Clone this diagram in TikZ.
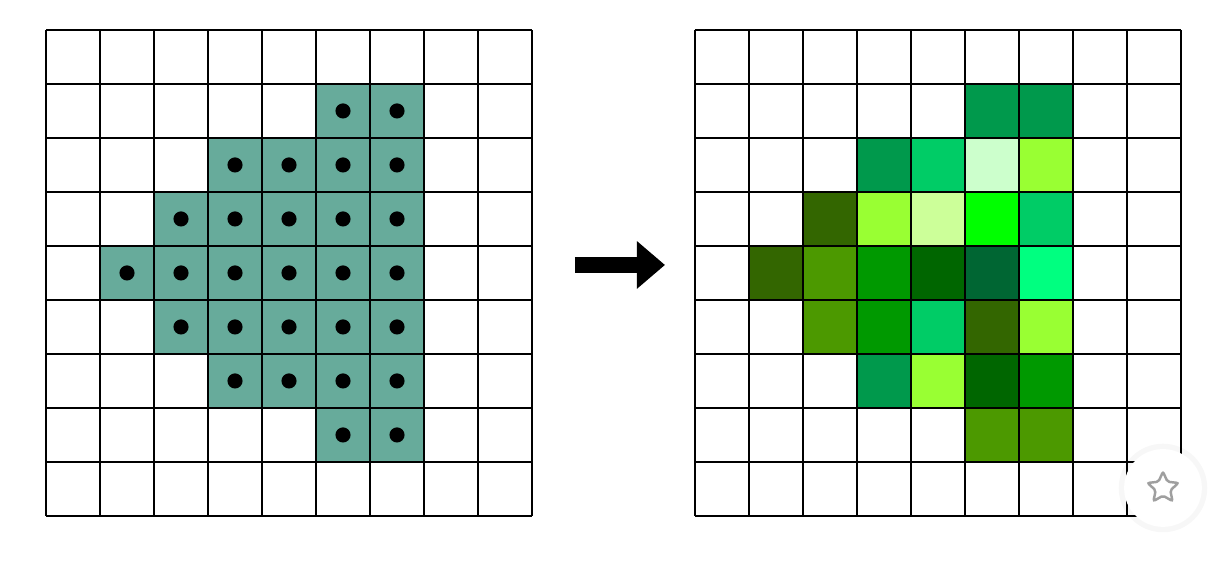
\documentclass[tikz,border=0pt]{standalone}
\usepackage{tikz}
\usetikzlibrary{arrows.meta,shapes.geometric}
\definecolor{cellteal}{RGB}{103,171,155}
\definecolor{gA}{HTML}{00994C}
\definecolor{gB}{HTML}{00CC66}
\definecolor{gC}{HTML}{CCFFCC}
\definecolor{gD}{HTML}{99FF33}
\definecolor{gE}{HTML}{336600}
\definecolor{gF}{HTML}{CCFF99}
\definecolor{gG}{HTML}{00FF00}
\definecolor{gH}{HTML}{4C9900}
\definecolor{gI}{HTML}{009900}
\definecolor{gJ}{HTML}{006600}
\definecolor{gK}{HTML}{006633}
\definecolor{gL}{HTML}{00FF80}

\begin{document}
\begin{tikzpicture}[gridline/.style={line width=0.8pt}]
    \useasboundingbox (0,0) rectangle (22.556,10.611);
    % left grid
    \begin{scope}[shift={(0.852,1.056)}]
        \foreach \c/\r in {5/1,6/1,3/2,4/2,5/2,6/2,2/3,3/3,4/3,5/3,6/3,1/4,2/4,3/4,4/4,5/4,6/4,2/5,3/5,4/5,5/5,6/5,3/6,4/6,5/6,6/6,5/7,6/7}
            \fill[cellteal] (\c,8-\r) rectangle +(1,1);
        \draw[gridline] (0,0) grid (9,9);
        \foreach \c/\r in {5/1,6/1,3/2,4/2,5/2,6/2,2/3,3/3,4/3,5/3,6/3,1/4,2/4,3/4,4/4,5/4,6/4,2/5,3/5,4/5,5/5,6/5,3/6,4/6,5/6,6/6,5/7,6/7}
            \fill (\c+0.5,8.5-\r) circle (0.14);
    \end{scope}
    % right grid
    \begin{scope}[shift={(12.870,1.056)}]
        \foreach \c/\r/\col in {5/1/gA,6/1/gA,3/2/gA,4/2/gB,5/2/gC,6/2/gD,2/3/gE,3/3/gD,4/3/gF,5/3/gG,6/3/gB,1/4/gE,2/4/gH,3/4/gI,4/4/gJ,5/4/gK,6/4/gL,2/5/gH,3/5/gI,4/5/gB,5/5/gE,6/5/gD,3/6/gA,4/6/gD,5/6/gJ,6/6/gI,5/7/gH,6/7/gH}
            \fill[\col] (\c,8-\r) rectangle +(1,1);
        \draw[gridline] (0,0) grid (9,9);
    \end{scope}
    % arrow
    \coordinate (from) at (10.648,5.704);
    \coordinate (to) at (12.315,5.704);
    \draw[line width=0.28cm,-{Triangle[length=0.52cm,width=0.85cm]}] (from) -- (to);
    % star button
    \fill[black,opacity=0.03] (21.537,1.574) circle (0.82);
    \node[circle,fill=white,minimum size=1.44cm,inner sep=0pt] (favbtn) at (21.537,1.574) {};
    \node[star,star points=5,star point ratio=2.1,draw=gray!75,line width=1.3pt,rounded corners=1pt,minimum size=0.6cm,inner sep=0pt] (favstar) at (favbtn) {};
\end{tikzpicture}
\end{document}
